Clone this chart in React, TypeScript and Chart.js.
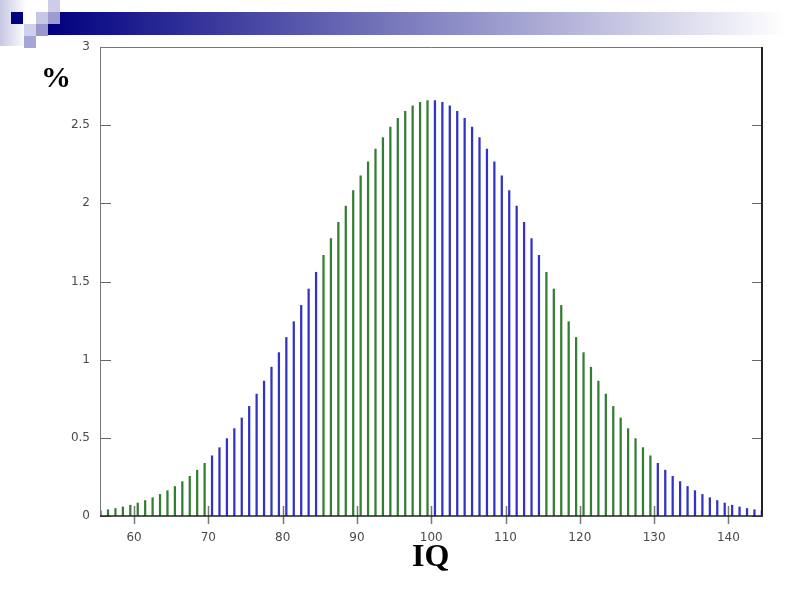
import React, { useEffect, useRef } from "react";
import { Chart, registerables } from "chart.js";

Chart.register(...registerables);

// IQ value at the centre of each bar
const iqPoints = [
  55.5, 56.5, 57.5, 58.5, 59.5, 60.5, 61.5, 62.5, 63.5, 64.5,
  65.5, 66.5, 67.5, 68.5, 69.5, 70.5, 71.5, 72.5, 73.5, 74.5,
  75.5, 76.5, 77.5, 78.5, 79.5, 80.5, 81.5, 82.5, 83.5, 84.5,
  85.5, 86.5, 87.5, 88.5, 89.5, 90.5, 91.5, 92.5, 93.5, 94.5,
  95.5, 96.5, 97.5, 98.5, 99.5, 100.5, 101.5, 102.5, 103.5, 104.5,
  105.5, 106.5, 107.5, 108.5, 109.5, 110.5, 111.5, 112.5, 113.5, 114.5,
  115.5, 116.5, 117.5, 118.5, 119.5, 120.5, 121.5, 122.5, 123.5, 124.5,
  125.5, 126.5, 127.5, 128.5, 129.5, 130.5, 131.5, 132.5, 133.5, 134.5,
  135.5, 136.5, 137.5, 138.5, 139.5, 140.5, 141.5, 142.5, 143.5, 144.5,
];

// share of population (%) for each bar
const percentValues = [
  0.033, 0.040, 0.048, 0.058, 0.069, 0.083, 0.099, 0.117, 0.138, 0.162,
  0.189, 0.220, 0.254, 0.293, 0.337, 0.385, 0.437, 0.495, 0.559, 0.627,
  0.701, 0.780, 0.863, 0.952, 1.045, 1.142, 1.243, 1.347, 1.452, 1.559,
  1.667, 1.774, 1.879, 1.982, 2.082, 2.176, 2.265, 2.347, 2.421, 2.487,
  2.543, 2.588, 2.623, 2.646, 2.658, 2.658, 2.646, 2.623, 2.588, 2.543,
  2.487, 2.421, 2.347, 2.265, 2.176, 2.082, 1.982, 1.879, 1.774, 1.667,
  1.559, 1.452, 1.347, 1.243, 1.142, 1.045, 0.952, 0.863, 0.780, 0.701,
  0.627, 0.559, 0.495, 0.437, 0.385, 0.337, 0.293, 0.254, 0.220, 0.189,
  0.162, 0.138, 0.117, 0.099, 0.083, 0.069, 0.058, 0.048, 0.040, 0.033,
];

const xTickValues = [60, 70, 80, 90, 100, 110, 120, 130, 140];
const xTickLabels = ["60", "70", "80", "90", "100", "110", "120", "130", "140"];
const yTickValues = [0, 0.5, 1, 1.5, 2, 2.5, 3];
const yTickLabels = ["0", "0.5", "1", "1.5", "2", "2.5", "3"];
// colour bands alternate green / blue at these IQ boundaries
const bandEdges = [70, 85, 100, 115, 130];

const GREEN = "rgb(52,125,52)";
const BLUE = "rgb(50,50,195)";

const framePlugin = {
  id: "frameTicks",
  afterDraw(chart: any) {
    const { ctx, chartArea: a, scales } = chart;
    const xs = scales.x;
    const ys = scales.y;
    ctx.save();
    ctx.lineWidth = 1;
    ctx.strokeStyle = "#666";
    yTickValues.forEach((v) => {
      const py = Math.round(ys.getPixelForValue(v)) + 0.5;
      ctx.beginPath();
      ctx.moveTo(a.left, py);
      ctx.lineTo(a.left + 11, py);
      ctx.moveTo(a.right - 10, py);
      ctx.lineTo(a.right, py);
      ctx.stroke();
    });
    ctx.strokeStyle = "#777";
    ctx.lineWidth = 1.5;
    xTickValues.forEach((v) => {
      const px = Math.round(xs.getPixelForValue(v)) + 0.5;
      ctx.beginPath();
      ctx.moveTo(px, a.bottom - 10);
      ctx.lineTo(px, a.bottom + 8);
      ctx.stroke();
    });
    // frame
    ctx.lineWidth = 1;
    ctx.strokeStyle = "#777";
    ctx.beginPath();
    ctx.moveTo(a.left + 0.5, a.bottom);
    ctx.lineTo(a.left + 0.5, a.top + 0.5);
    ctx.lineTo(a.right, a.top + 0.5);
    ctx.stroke();
    ctx.strokeStyle = "#222";
    ctx.lineWidth = 2;
    ctx.beginPath();
    ctx.moveTo(a.right, a.top);
    ctx.lineTo(a.right, a.bottom);
    ctx.stroke();
    ctx.lineWidth = 1.5;
    ctx.beginPath();
    ctx.moveTo(a.left, a.bottom);
    ctx.lineTo(a.right + 1, a.bottom);
    ctx.stroke();
    ctx.restore();
  },
};

function bandColor(x: number) {
  const idx = bandEdges.filter((e) => x >= e).length;
  return idx % 2 === 0 ? GREEN : BLUE;
}

export default function App() {
  const ref = useRef<HTMLCanvasElement | null>(null);

  useEffect(() => {
    if (!ref.current) return;
    const chart = new Chart(ref.current, {
      type: "bar",
      data: {
        datasets: [
          {
            data: iqPoints.map((x, i) => ({ x, y: percentValues[i] })),
            backgroundColor: (c: any) => bandColor(iqPoints[c.dataIndex]),
            barThickness: 1.6,
            borderWidth: 0,
          },
        ],
      },
      options: {
        responsive: false,
        animation: false,
        events: [],
        layout: { padding: { left: 0, top: 47, right: 38, bottom: 0 } },
        plugins: { legend: { display: false }, tooltip: { enabled: false } },
        scales: {
          x: {
            type: "linear",
            min: 55.42,
            max: 144.52,
            offset: false,
            grid: { display: false, drawTicks: false },
            border: { display: false },
            ticks: {
              autoSkip: false,
              maxRotation: 0,
              padding: 15,
              color: "#4a4a4a",
              font: { family: "'DejaVu Sans', sans-serif", size: 12 },
              callback: (v: any) => xTickLabels[xTickValues.indexOf(Number(v))],
            },
            afterBuildTicks: (s: any) => {
              s.ticks = xTickValues.map((v) => ({ value: v }));
            },
            afterFit: (s: any) => {
              s.height = 84;
            },
          },
          y: {
            type: "linear",
            min: 0,
            max: 3,
            grid: { display: false, drawTicks: false },
            border: { display: false },
            ticks: {
              padding: 10,
              color: "#4a4a4a",
              font: { family: "'DejaVu Sans', sans-serif", size: 12 },
              callback: (v: any) => yTickLabels[yTickValues.indexOf(Number(v))],
            },
            afterBuildTicks: (s: any) => {
              s.ticks = yTickValues.map((v) => ({ value: v }));
            },
            afterFit: (s: any) => {
              s.width = 100;
            },
          },
        },
      },
      plugins: [framePlugin],
    } as any);
    return () => chart.destroy();
  }, []);

  const sq = (left: number, top: number, bg: string) => (
    <div style={{ position: "absolute", left, top, width: 12, height: 12, background: bg }} />
  );

  return (
    <div style={{ position: "absolute", left: 0, top: 0, width: 800, height: 600, background: "#fff", overflow: "hidden" }}>
      <div style={{ position: "absolute", left: 0, top: 0, width: 26, height: 46, background: "linear-gradient(to right, #c6c6e4, #ffffff)" }} />
      <div style={{ position: "absolute", left: 48, top: 12, width: 752, height: 23, background: "linear-gradient(to right, #000080 0%, #ffffff 98%)" }} />
      {sq(11, 12, "#000080")}
      {sq(48, 0, "#cdcdea")}
      {sq(36, 12, "#c6c6e6")}
      {sq(48, 12, "#9c9cd0")}
      {sq(24, 24, "#d0d0ec")}
      {sq(36, 24, "#9898cc")}
      {sq(24, 36, "#a6a6d6")}
      <canvas ref={ref} width={800} height={600} style={{ position: "absolute", left: 0, top: 0 }} />
      <div style={{ position: "absolute", left: 41, top: 62, font: "bold 30px 'Liberation Serif', serif", lineHeight: "30px", color: "#000" }}>%</div>
      <div style={{ position: "absolute", left: 412, top: 539, font: "bold 32px 'Liberation Serif', serif", lineHeight: "32px", color: "#000" }}>IQ</div>
    </div>
  );
}
